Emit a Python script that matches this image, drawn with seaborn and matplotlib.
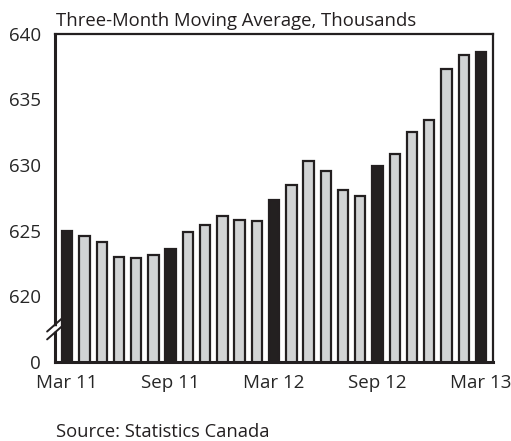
import matplotlib
matplotlib.use("Agg")
import matplotlib.pyplot as plt
import seaborn as sns
import pandas as pd

# three-month moving average, thousands (Mar 11 .. Mar 13)
months = ["Mar 11", "Apr 11", "May 11", "Jun 11", "Jul 11", "Aug 11", "Sep 11",
          "Oct 11", "Nov 11", "Dec 11", "Jan 12", "Feb 12", "Mar 12",
          "Apr 12", "May 12", "Jun 12", "Jul 12", "Aug 12", "Sep 12",
          "Oct 12", "Nov 12", "Dec 12", "Jan 13", "Feb 13", "Mar 13"]
values = [625.0, 624.6, 624.1, 623.0, 622.9, 623.1, 623.6,
          624.9, 625.4, 626.1, 625.8, 625.7, 627.3,
          628.5, 630.3, 629.5, 628.1, 627.6, 629.9,
          630.8, 632.5, 633.4, 637.3, 638.4, 638.6]
highlight = ["Mar 11", "Sep 11", "Mar 12", "Sep 12", "Mar 13"]
yticks = [620, 625, 630, 635, 640]

BREAK_AT = 615  # where "0" sits on the broken axis

df = pd.DataFrame({"month": months, "value": values})
df["kind"] = ["key" if m in highlight else "other" for m in months]

sns.set_style("white")
plt.rcParams["font.family"] = ["Open Sans", "DejaVu Sans"]

fig = plt.figure(figsize=(5.11, 4.41), dpi=100)
ax = fig.add_axes([0.1076, 0.1798, 0.8566, 0.7438])

sns.barplot(data=df, x="month", y="value", hue="kind",
            palette={"key": "#231f20", "other": "#d1d3d4"},
            dodge=False, width=0.6, edgecolor="#231f20", linewidth=1.6,
            legend=False, ax=ax)

ax.set_ylim(BREAK_AT, 640)
ax.set_xlim(-0.71, len(months) - 1 + 0.68)
ax.set_yticks([BREAK_AT] + yticks)
ax.set_yticklabels(["0"] + [str(t) for t in yticks], fontsize=13.5)
ax.set_xticks([months.index(m) for m in highlight])
ax.set_xticklabels(highlight, fontsize=13.5)
ax.tick_params(axis="y", direction="out", length=7, width=1.6, color="#231f20", pad=3)
ax.tick_params(axis="x", length=0, pad=9)
ax.set_xlabel("")
ax.set_ylabel("")
for side in ["left", "bottom"]:
    ax.spines[side].set_linewidth(2.2)
for side in ["top", "right"]:
    ax.spines[side].set_linewidth(1.6)
for s in ax.spines.values():
    s.set_color("#231f20")

# axis break marker on the left spine
tr = ax.get_yaxis_transform()
ax.plot([-0.004, 0.004], [617.5, 617.5], transform=tr, color="white",
        lw=4, clip_on=False, zorder=5)
for dy in (-0.3, 0.3):
    ax.plot([-0.018, 0.016], [617.0 + dy, 618.0 + dy], transform=tr,
            color="#231f20", lw=1.4, clip_on=False, zorder=6)

fig.text(0.11, 0.941, "Three-Month Moving Average, Thousands", fontsize=13.3,
         color="#231f20", va="baseline")
fig.text(0.11, 0.01, "Source: Statistics Canada", fontsize=13.2,
         color="#231f20", va="baseline")

fig.savefig("out.png", dpi=100)
